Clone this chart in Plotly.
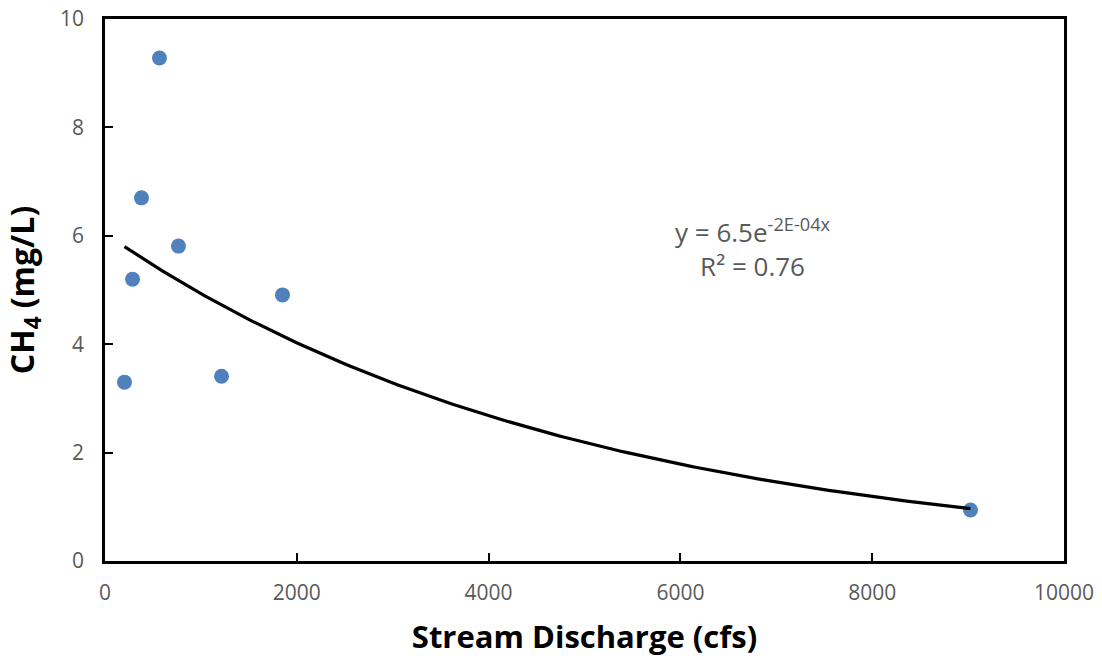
import numpy as np
import plotly.graph_objects as go

# Stream discharge (cfs) and methane concentration (mg/L)
discharge = [568, 380, 766, 287, 1851, 203, 1215, 9025]
ch4 = [9.28, 6.70, 5.81, 5.20, 4.91, 3.30, 3.41, 0.94]

x_ticks = [0, 2000, 4000, 6000, 8000, 10000]
x_tick_text = ["0", "2000", "4000", "6000", "8000", "10000"]
y_ticks = [0, 2, 4, 6, 8, 10]
y_tick_text = ["0", "2", "4", "6", "8", "10"]

eq_label = "y = 6.5e<sup>-2E-04x</sup>"
r2_label = "R² = 0.76"

# Exponential trendline: least-squares fit of ln(y) against x
b, ln_a = np.polyfit(discharge, np.log(ch4), 1)
xs = np.linspace(min(discharge), max(discharge), 200)
ys = np.exp(ln_a) * np.exp(b * xs)

TEXT_GRAY = "#595959"
FONT = "Open Sans"

fig = go.Figure()
fig.add_trace(go.Scatter(
    x=discharge, y=ch4, mode="markers",
    marker=dict(size=15, color="#4F81BD"),
    showlegend=False,
))
fig.add_trace(go.Scatter(
    x=xs, y=ys, mode="lines",
    line=dict(color="black", width=3.2),
    showlegend=False,
))

fig.add_annotation(
    x=6752, y=5.77, xref="x", yref="y",
    text=eq_label + "<br>" + r2_label,
    showarrow=False, align="center",
    font=dict(family=FONT, size=26, color=TEXT_GRAY),
)

axis_common = dict(
    showgrid=False, zeroline=False, automargin=False,
    showline=True, linecolor="black", linewidth=2.5, mirror=True,
    ticks="inside", ticklen=8, tickwidth=2, tickcolor="black",
    tickfont=dict(family=FONT, size=21, color=TEXT_GRAY),
)

fig.update_xaxes(
    range=[0, 10000], tickvals=x_ticks, ticktext=x_tick_text,
    ticklabelstandoff=11,
    title=dict(text="<b>Stream Discharge (cfs)</b>",
               font=dict(family=FONT, size=31, color="black"), standoff=22),
    **axis_common,
)
fig.update_yaxes(
    range=[0, 10], tickvals=y_ticks, ticktext=y_tick_text,
    ticklabelstandoff=14,
    title=dict(text="<b>CH<sub>4</sub> (mg/L)</b>",
               font=dict(family=FONT, size=32, color="black"), standoff=19),
    **axis_common,
)

fig.update_layout(
    width=1102, height=660,
    margin=dict(l=105, r=38, t=19, b=99),
    paper_bgcolor="white", plot_bgcolor="white",
)

fig.write_html("out.html")
